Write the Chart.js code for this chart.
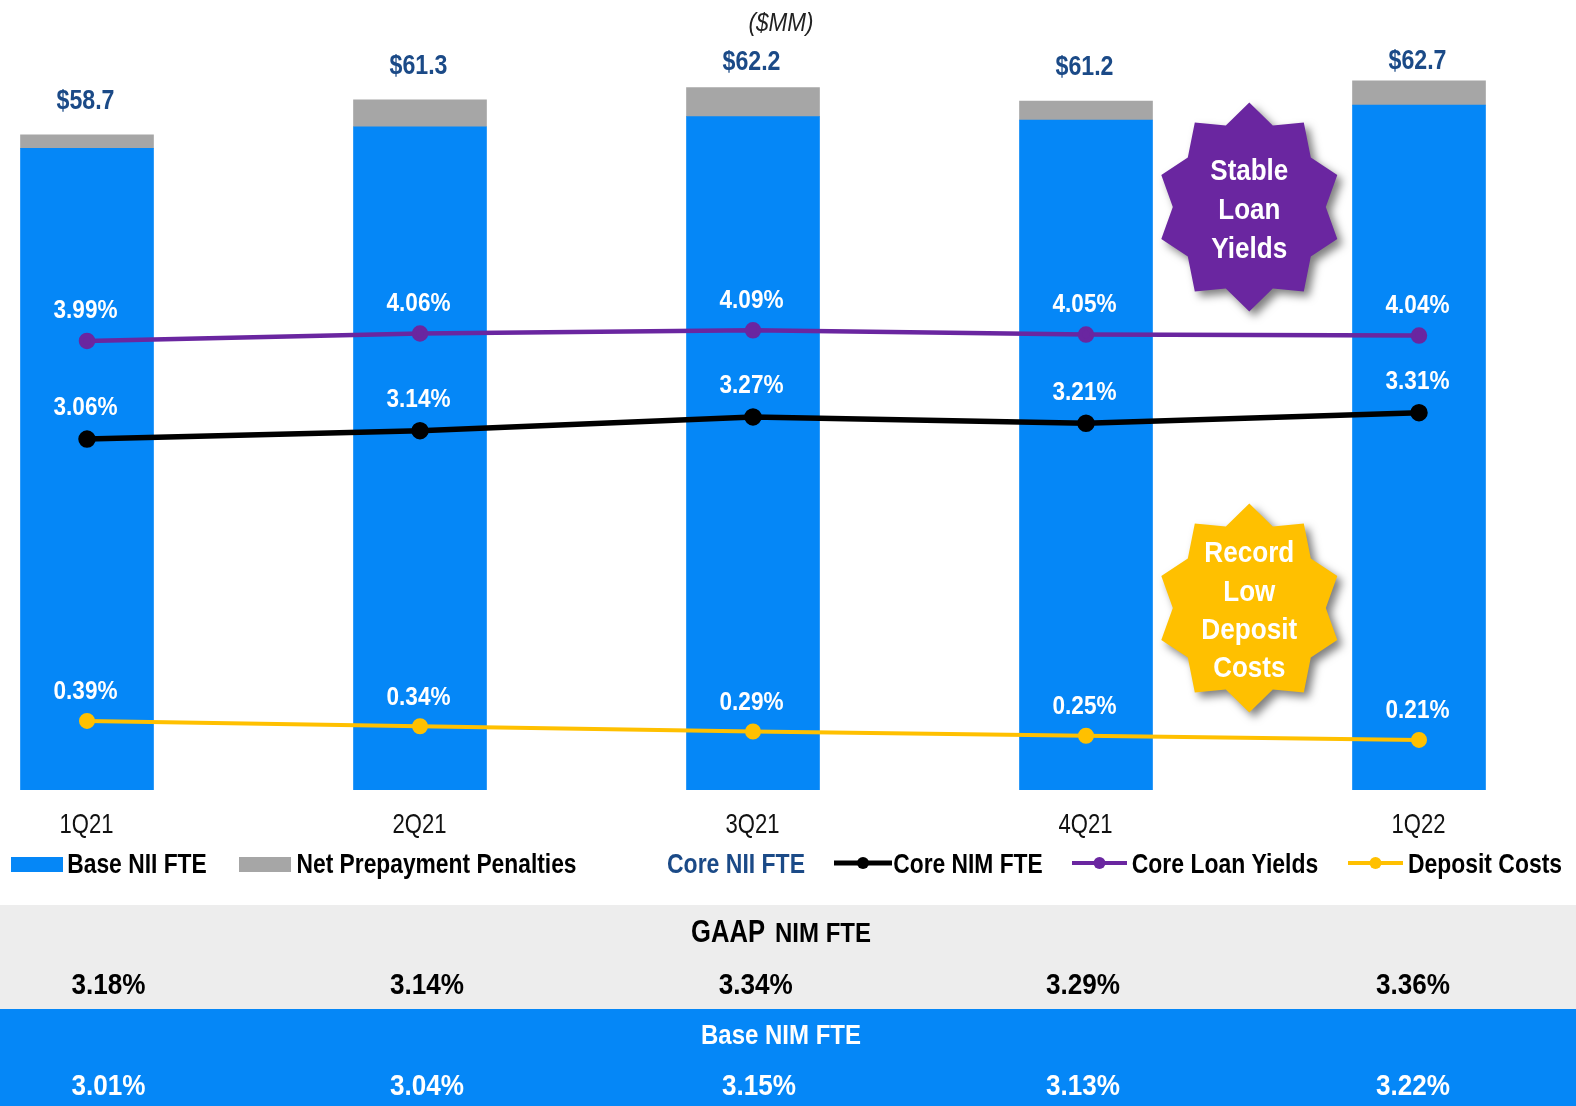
<!DOCTYPE html>
<html><head><meta charset="utf-8">
<style>html,body{margin:0;padding:0;background:#fff;overflow:hidden}canvas{display:block}</style>
<script src="https://cdn.jsdelivr.net/npm/chart.js@4"></script>
</head><body><canvas id="c" width="1576" height="1106"></canvas>
<script>
const categories = ['1Q21','2Q21','3Q21','4Q21','1Q22'];
const baseNII = [57.7, 59.3, 60.05, 59.8, 60.9];
const netPrepayment = [1.0, 2.0, 2.15, 1.4, 1.8];
const coreNII = [58.7, 61.3, 62.2, 61.2, 62.7];
const coreNIM = [3.06, 3.14, 3.27, 3.21, 3.31];
const coreLoanYields = [3.99, 4.06, 4.09, 4.05, 4.04];
const depositCosts = [0.39, 0.34, 0.29, 0.25, 0.21];
const gaapNIM = [3.18, 3.14, 3.34, 3.29, 3.36];
const baseNIM = [3.01, 3.04, 3.15, 3.13, 3.22];

const BLUE='#0587F7', GREY='#A6A6A6', PURPLE='#6A26A0', YELLOW='#FFC000', NAVY='#1B4A87';
const FONT='"Liberation Sans", Arial, sans-serif';
const coreLabelLift=[35,35,27,36,21];
const gaapX=[108.5,427,755.7,1083,1413], baseX=[108.5,427,759,1083,1413];
const starOuter=[[0,-104.5],[54.5,-84.5],[88,-32],[88,32],[54.5,84.5],[0,104.5],[-54.5,84.5],[-88,32],[-88,-32],[-54.5,-84.5]];
const starInner=[[23.5,-81.5],[61.5,-49.5],[76.5,0],[61.5,49.5],[23.5,81.5],[-23.5,81.5],[-61.5,49.5],[-76.5,0],[-61.5,-49.5],[-23.5,-81.5]];

function txt(ctx,s,cx,cy,size,weight,color,w,style){
  ctx.save();
  ctx.font=(style?style+' ':'')+weight+' '+size+'px '+FONT;
  ctx.fillStyle=color;ctx.textAlign='left';ctx.textBaseline='alphabetic';
  const m=ctx.measureText(s).width, k=w/m;
  ctx.translate(cx-w/2,cy+size*0.358);ctx.scale(k,1);
  ctx.fillText(s,0,0);
  ctx.restore();
}
function star(ctx,cx,cy,color){
  ctx.save();
  ctx.shadowColor='rgba(0,0,0,.5)';ctx.shadowBlur=8;ctx.shadowOffsetX=5;ctx.shadowOffsetY=5;
  ctx.fillStyle=color;ctx.beginPath();
  starOuter.forEach((p,i)=>{
    const q=starInner[i];
    if(i===0)ctx.moveTo(cx+p[0],cy+p[1]);else ctx.lineTo(cx+p[0],cy+p[1]);
    ctx.lineTo(cx+q[0],cy+q[1]);
  });
  ctx.closePath();ctx.fill();ctx.restore();
}
const decor={
  id:'decor',
  beforeDraw(ch){
    const c=ch.ctx;
    c.save();c.fillStyle='#EDEDED';c.fillRect(0,905,1576,104);
    c.fillStyle=BLUE;c.fillRect(0,1009,1576,97);c.restore();
  },
  afterDatasetsDraw(ch){
    const c=ch.ctx,y=ch.scales.y,x=ch.scales.x,ds=ch.data.datasets;
    categories.forEach((t,i)=>txt(c,t,x.getPixelForValue(i)-0.5,823,28,'normal','#111',54));
    txt(c,'($MM)',781,22,25,'normal','#222',65,'italic');
    const m0=ch.getDatasetMeta(0);
    coreNII.forEach((v,i)=>{
      const top=y.getPixelForValue(baseNII[i]+netPrepayment[i]);
      txt(c,'$'+v.toFixed(1),m0.data[i].x-1.5,top-coreLabelLift[i],27,'bold',NAVY,58);
    });
    [[2,33],[3,32],[4,31]].forEach(([d,lift])=>{
      ch.getDatasetMeta(d).data.forEach((pt,i)=>{
        txt(c,ds[d].data[i].toFixed(2)+'%',pt.x-1.5,pt.y-lift,26,'bold','#fff',64);
      });
    });
    star(c,1249.3,207,PURPLE);
    star(c,1249.3,608,YELLOW);
    [['Stable',170,78],['Loan',209,62],['Yields',247.5,76]].forEach(a=>txt(c,a[0],1249.3,a[1],29,'bold','#fff',a[2]));
    [['Record',551.5,90],['Low',590.5,52],['Deposit',628.5,96],['Costs',666.5,72]].forEach(a=>txt(c,a[0],1249.3,a[1],29,'bold','#fff',a[2]));
    const ly=863;
    c.fillStyle=BLUE;c.fillRect(11,857,52,15);
    txt(c,ds[0].label,137,ly,28,'bold','#000',139.5);
    c.fillStyle=GREY;c.fillRect(239,857,52,15);
    txt(c,ds[1].label,436.5,ly,28,'bold','#000',280);
    txt(c,'Core NII FTE',736,ly,28,'bold',NAVY,138);
    const leg=(x0,x1,col,lw)=>{c.save();c.strokeStyle=col;c.lineWidth=lw;c.beginPath();c.moveTo(x0,ly);c.lineTo(x1,ly);c.stroke();
      c.fillStyle=col;c.beginPath();c.arc((x0+x1)/2,ly,6,0,7);c.fill();c.restore();};
    leg(834,892,'#000',5);
    txt(c,ds[2].label,968,ly,28,'bold','#000',149.5);
    leg(1072,1127,PURPLE,4);
    txt(c,ds[3].label,1225,ly,28,'bold','#000',186.5);
    leg(1348,1403,YELLOW,4);
    txt(c,ds[4].label,1485,ly,28,'bold','#000',154);
    txt(c,'GAAP',728,931,31,'bold','#000',74);
    txt(c,'NIM FTE',823,932,27,'bold','#000',96);
    txt(c,'Base NIM FTE',781,1034,27,'bold','#fff',160);
    gaapNIM.forEach((v,i)=>txt(c,v.toFixed(2)+'%',gaapX[i],983,30,'bold','#000',74));
    baseNIM.forEach((v,i)=>txt(c,v.toFixed(2)+'%',baseX[i],1084,30,'bold','#fff',74));
  }
};
const barClip={left:100,right:100,top:false,bottom:0};
new Chart(document.getElementById('c'),{
  data:{labels:categories,datasets:[
    {type:'bar',label:'Base NII FTE',data:baseNII,backgroundColor:BLUE,yAxisID:'y',order:2,barThickness:133,clip:barClip},
    {type:'bar',label:'Net Prepayment Penalties',data:netPrepayment,backgroundColor:GREY,yAxisID:'y',order:2,barThickness:133,clip:barClip},
    {type:'line',label:'Core NIM FTE',data:coreNIM,borderColor:'#000',backgroundColor:'#000',borderWidth:5.5,pointRadius:6,yAxisID:'y2',order:1,clip:false,tension:0},
    {type:'line',label:'Core Loan Yields',data:coreLoanYields,borderColor:PURPLE,backgroundColor:PURPLE,borderWidth:4.5,pointRadius:6,yAxisID:'y2',order:1,clip:false,tension:0},
    {type:'line',label:'Deposit Costs',data:depositCosts,borderColor:YELLOW,backgroundColor:YELLOW,borderWidth:4,pointRadius:6,yAxisID:'y2',order:1,clip:false,tension:0}
  ]},
  options:{
    responsive:false,animation:false,
    layout:{padding:{left:87,right:157,top:0,bottom:308}},
    plugins:{legend:{display:false},tooltip:{enabled:false},title:{display:false}},
    scales:{
      x:{stacked:true,offset:false,grid:{display:false},border:{display:false},ticks:{display:false}},
      y:{display:false,stacked:true,min:10.2,max:67.83},
      y2:{display:false,min:-0.264,max:7.11}
    }
  },
  plugins:[decor]
});
</script></body></html>
